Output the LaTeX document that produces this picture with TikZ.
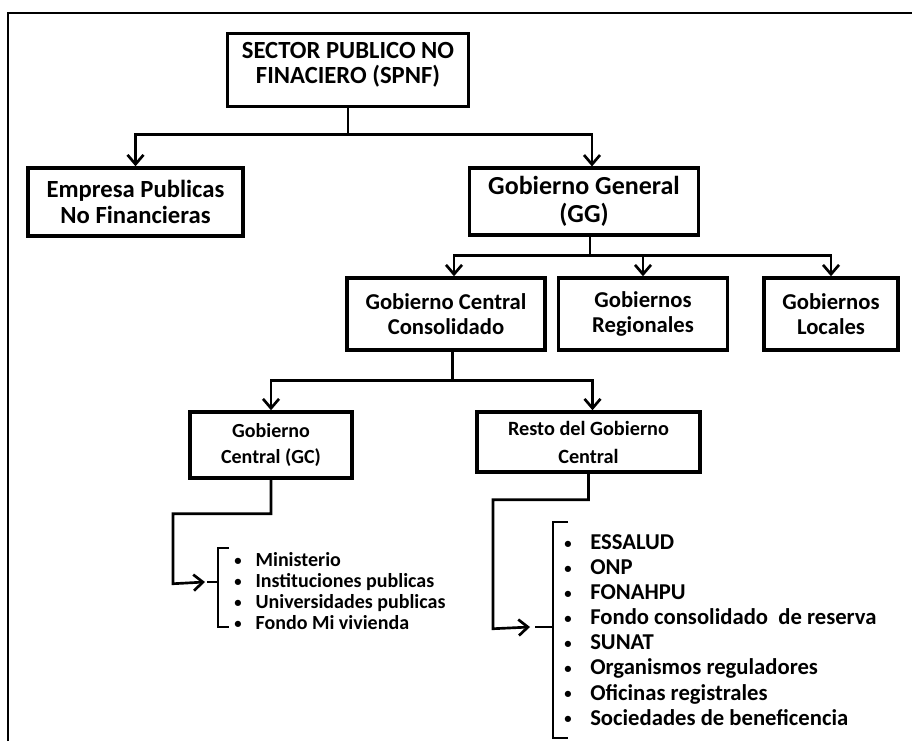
\documentclass[tikz,border=0pt]{standalone}
\usepackage{fontspec}
\setmainfont{Carlito}
\usetikzlibrary{arrows.meta,positioning}
\newcommand{\punto}{\raisebox{1.2pt}{\fontsize{11}{11}\selectfont\textbullet}}
\tikzset{>={Straight Barb[length=7pt,width=12pt]},
         caja/.style={draw, line width=2.6pt, align=center, font=\bfseries, inner sep=2pt},
         une/.style={line width=2pt},
         corch/.style={line width=2pt},
         lista/.style={align=left, anchor=west, inner sep=0pt}}

\begin{document}
\begin{tikzpicture}[x=0.75pt, y=-0.75pt]
  \useasboundingbox (0,0) rectangle (912,741);
  \draw[line width=1pt] (8,741) -- (8,13) -- (912,13);

  % cajas
  \node[caja, minimum width=181pt, minimum height=55pt, text depth=11pt,
        font=\bfseries\fontsize{18.5}{19}\selectfont] (spnf) at (348,70)
        {SECTOR PUBLICO NO\\FINACIERO (SPNF)};
  \node[caja, minimum width=161pt, minimum height=51pt,
        font=\bfseries\fontsize{18.5}{20}\selectfont] (emp) at (135.5,202)
        {Empresa Publicas\\No Financieras};
  \node[caja, minimum width=172pt, minimum height=50pt,
        font=\bfseries\fontsize{19.5}{21}\selectfont] (gg) at (584,201.5)
        {Gobierno General\\(GG)};
  \node[caja, minimum width=148.5pt, minimum height=54pt,
        font=\bfseries\fontsize{17}{18.5}\selectfont] (gcc) at (446,314)
        {Gobierno Central\\Consolidado};
  \node[caja, minimum width=127pt, minimum height=54pt,
        font=\bfseries\fontsize{17}{18.5}\selectfont] (gr) at (643,314)
        {Gobiernos\\Regionales};
  \node[caja, minimum width=100.5pt, minimum height=54pt,
        font=\bfseries\fontsize{17}{18.5}\selectfont] (gl) at (831,314)
        {Gobiernos\\Locales};
  \node[caja, minimum width=121.5pt, minimum height=49.5pt,
        font=\bfseries\fontsize{15}{20}\selectfont] (gc) at (271,445)
        {Gobierno\\Central (GC)};
  \node[caja, minimum width=167pt, minimum height=45pt,
        font=\bfseries\fontsize{15.2}{21}\selectfont] (resto) at (588.5,442)
        {Resto del Gobierno\\Central};

  % listas
  \node[lista, font=\bfseries\fontsize{15}{15.75}\selectfont] (gclist) at (234,591.5)
        {\makebox[16pt][l]{\punto}Ministerio\\
         \makebox[16pt][l]{\punto}Instituciones publicas\\
         \makebox[16pt][l]{\punto}Universidades publicas\\
         \makebox[16pt][l]{\punto}Fondo Mi vivienda};
  \node[lista, font=\bfseries\fontsize{17}{18.8}\selectfont] (restolist) at (564,630)
        {\makebox[19.5pt][l]{\punto}ESSALUD\\
         \makebox[19.5pt][l]{\punto}ONP\\
         \makebox[19.5pt][l]{\punto}FONAHPU\\
         \makebox[19.5pt][l]{\punto}Fondo consolidado\ \ de reserva\\
         \makebox[19.5pt][l]{\punto}SUNAT\\
         \makebox[19.5pt][l]{\punto}Organismos reguladores\\
         \makebox[19.5pt][l]{\punto}Oficinas registrales\\
         \makebox[19.5pt][l]{\punto}Sociedades de beneficencia};

  % corchetes
  \coordinate (gcin) at (205,582);
  \coordinate (restoin) at (530,627);
  \draw[corch] (229,548) -- (218,548) -- (218,627) -- (229,627);
  \draw[corch] (207,582) -- (218,582);
  \draw[corch] (568,522) -- (553,522) -- (553,738) -- (568,738);
  \draw[corch] (535,627) -- (553,627);

  % conectores
  \draw[une] (spnf.south) -- ++(0,26) coordinate (h1);
  \draw[une,->] (h1) -| (emp.north);
  \draw[une,->] (h1) -| ([xshift=6pt]gg.north);
  \draw[une] ([xshift=4.5pt]gg.south) -- ++(0,19) coordinate (h2);
  \draw[une,->] (h2) -| ([xshift=6pt]gcc.north);
  \draw[une,->] (h2) -| (gr.north);
  \draw[une,->] (h2) -| (gl.north);
  \draw[une] ([xshift=5pt]gcc.south) -- ++(0,29) coordinate (h3);
  \draw[une,->] (h3) -| (gc.north);
  \draw[une,->] (h3) -| ([xshift=3pt]resto.north);
  \draw[une,->] (gc.south) -- ++(0,34) -| ++(-98,70) -- (gcin);
  \draw[une,->] (resto.south) -- ++(0,26) -| ++(-95.5,129) -- (restoin);
\end{tikzpicture}
\end{document}
